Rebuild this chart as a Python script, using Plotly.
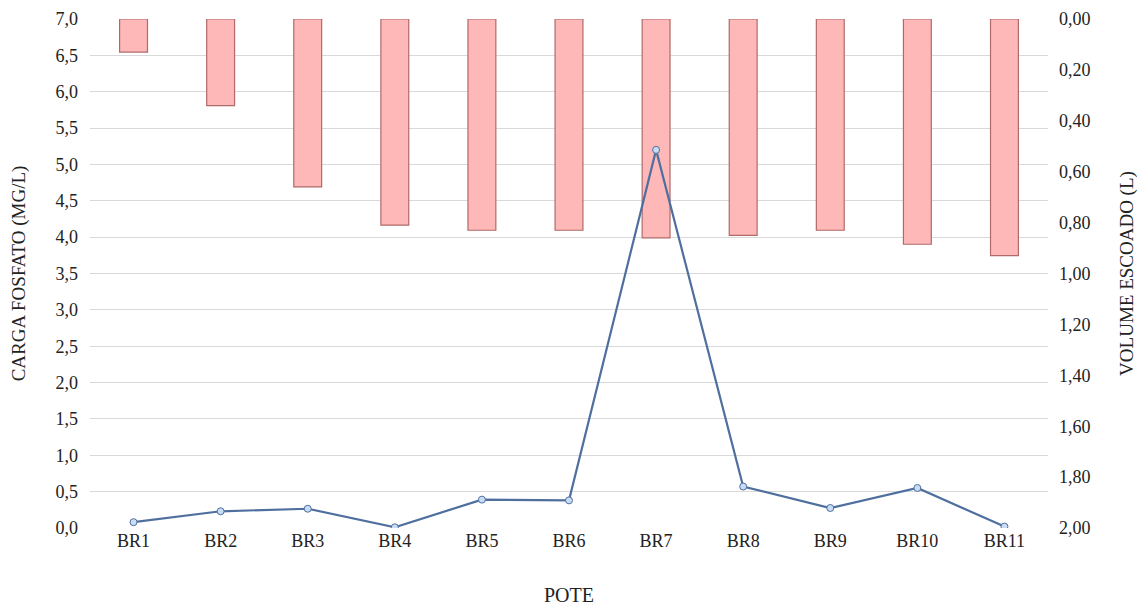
import plotly.graph_objects as go

potes = ["BR1", "BR2", "BR3", "BR4", "BR5", "BR6", "BR7", "BR8", "BR9", "BR10", "BR11"]
volume_escoado = [0.13, 0.34, 0.66, 0.81, 0.83, 0.83, 0.86, 0.85, 0.83, 0.885, 0.93]
carga_fosfato = [0.08, 0.23, 0.265, 0.01, 0.39, 0.38, 5.20, 0.57, 0.275, 0.55, 0.02]

left_ticks = [i * 0.5 for i in range(15)]
right_ticks = [i * 0.2 for i in range(11)]

FONT = "Liberation Serif"

fig = go.Figure()
fig.add_trace(go.Bar(
    x=potes, y=volume_escoado, yaxis="y",
    marker=dict(color="#FFB8B8", line=dict(color="#B06A6A", width=1.2)),
    width=0.32, name="Volume escoado",
))
fig.add_trace(go.Scatter(
    x=potes, y=carga_fosfato, yaxis="y2", mode="lines+markers",
    line=dict(color="#4F6F9F", width=2.2),
    marker=dict(size=7, color="#C8DDF5", line=dict(color="#4F6F9F", width=1)),
    name="Carga fosfato",
))

fig.update_layout(
    width=1145, height=606,
    margin=dict(l=82, r=105, t=11, b=86),
    paper_bgcolor="white", plot_bgcolor="white",
    separators=",.",
    showlegend=False,
    font=dict(family=FONT, color="#222222"),
    xaxis=dict(
        automargin=False, range=[-0.5, len(potes) - 0.5],
        showgrid=False, showline=False, ticks="",
        tickfont=dict(size=18, family=FONT),
        title=dict(text="POTE", font=dict(size=20, family=FONT), standoff=37),
    ),
    yaxis=dict(
        automargin=False,
        side="right", range=[2, 0], tickvals=right_ticks, tickformat=".2f",
        showgrid=False, zeroline=False, showline=False, ticks="",
        ticklabelstandoff=10,
        tickfont=dict(size=18, family=FONT),
        title=dict(text="VOLUME ESCOADO (L)", font=dict(size=19, family=FONT), standoff=30),
    ),
    yaxis2=dict(
        automargin=False,
        side="left", overlaying="y", range=[0, 7], tickvals=left_ticks, tickformat=".1f",
        showgrid=True, gridcolor="#D9D9D9", gridwidth=1, zeroline=False, showline=False, ticks="",
        ticklabelstandoff=11,
        tickfont=dict(size=18, family=FONT),
        title=dict(text="CARGA FOSFATO (MG/L)", font=dict(size=19, family=FONT), standoff=27),
    ),
)

fig.write_html("out.html")
